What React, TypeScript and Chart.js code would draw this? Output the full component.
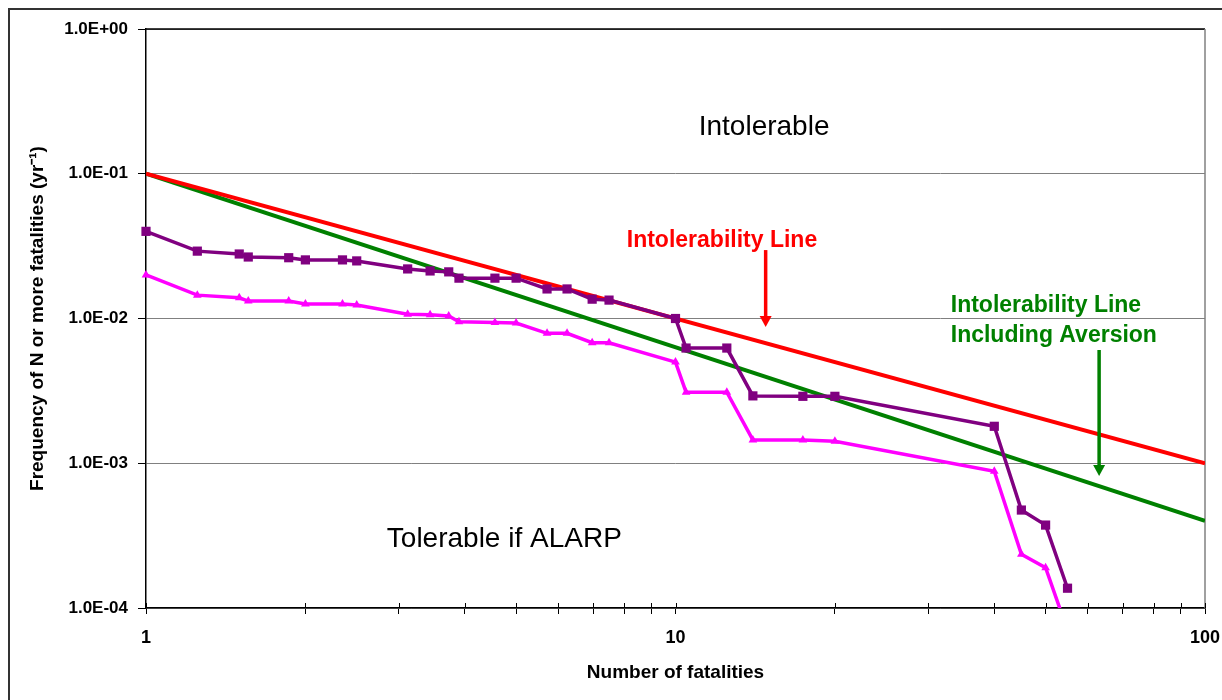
import React, { useEffect, useRef } from "react";
import { Chart, registerables } from "chart.js";
Chart.register(...registerables);

const FONT = "'Liberation Sans', Arial, Helvetica, sans-serif";

// Fatalities (N) for the two F-N curves
const nCurve = [1, 1.25, 1.5, 1.56, 1.86, 2, 2.35, 2.5, 3.12, 3.44, 3.73, 3.9, 4.56, 5, 5.72, 6.24, 6.96, 7.49, 10, 10.47, 12.5, 14, 17.4, 20, 40, 45, 50, 55];
// Purple curve (squares)
const fPurple = [0.04, 0.0292, 0.0279, 0.0266, 0.0263, 0.0254, 0.0254, 0.025, 0.022, 0.0213, 0.021, 0.019, 0.019, 0.019, 0.016, 0.016, 0.0136, 0.0134, 0.01, 0.00625, 0.00625, 0.00292, 0.0029, 0.0029, 0.0018, 0.000475, 0.000374, 0.000137];
// Magenta curve (triangles)
const fMagenta = [0.02, 0.0145, 0.0139, 0.0132, 0.0132, 0.0126, 0.0126, 0.0124, 0.0107, 0.0106, 0.0104, 0.0095, 0.0094, 0.0093, 0.0079, 0.0079, 0.0068, 0.0068, 0.005, 0.0031, 0.0031, 0.00145, 0.00145, 0.00142, 0.00088, 0.000235, 0.00019, 0.00007];

// Criterion lines
const nLine = [1, 100];
const fIntolerability = [0.1, 0.001];
const fAversion = [0.1, 0.0004];

// Axis ticks
const xMajor = [1, 10, 100];
const xMajorLabels = ["1", "10", "100"];
const xMinor = [2, 3, 4, 5, 6, 7, 8, 9, 20, 30, 40, 50, 60, 70, 80, 90];
const yTicks = [0.0001, 0.001, 0.01, 0.1, 1];
const yTickLabels = ["1.0E-04", "1.0E-03", "1.0E-02", "1.0E-01", "1.0E+00"];

// Annotations (anchored in data coordinates)
const notes = [
  { text: "Intolerable", n: 14.7, f: 0.185, color: "#000000", size: 28, weight: "normal", align: "center" },
  { text: "Tolerable if ALARP", n: 4.75, f: 0.000264, color: "#000000", size: 28, weight: "normal", align: "center" },
  { text: "Intolerability Line", n: 12.24, f: 0.0312, color: "#FF0000", size: 23, weight: "bold", align: "center" },
  { text: "Intolerability Line", n: 33.1, f: 0.0111, color: "#008000", size: 23, weight: "bold", align: "left" },
  { text: "Including Aversion", n: 33.1, f: 0.00688, color: "#008000", size: 23, weight: "bold", align: "left" },
];
const arrows = [
  { n: 14.8, from: 0.0297, to: 0.00874, color: "#FF0000" },
  { n: 63.1, from: 0.00606, to: 0.000816, color: "#008000" },
];

const pts = (xs: number[], ys: number[]) => xs.map((x, i) => ({ x, y: ys[i] }));

const decorPlugin = {
  id: "decor",
  beforeDatasetsDraw(chart: any) {
    const { ctx, chartArea: a, scales } = chart;
    const xs = scales.x;
    ctx.save();
    ctx.lineWidth = 1.5;
    ctx.strokeStyle = "#000";
    ctx.beginPath();
    ctx.moveTo(a.left, a.top);
    ctx.lineTo(a.right, a.top);
    ctx.stroke();
    ctx.strokeStyle = "#808080";
    ctx.beginPath();
    ctx.moveTo(a.right, a.top);
    ctx.lineTo(a.right, a.bottom);
    ctx.stroke();
    ctx.strokeStyle = "#000";
    ctx.lineWidth = 1;
    [...xMajor, ...xMinor].forEach((v) => {
      const px = Math.round(xs.getPixelForValue(v)) + 0.5;
      ctx.beginPath();
      ctx.moveTo(px, a.bottom - 5);
      ctx.lineTo(px, a.bottom);
      ctx.stroke();
    });
    ctx.restore();
  },
  afterDatasetsDraw(chart: any) {
    const { ctx, scales } = chart;
    const xs = scales.x;
    const ys = scales.y;
    ctx.save();
    notes.forEach((t) => {
      ctx.font = `${t.weight} ${t.size}px ${FONT}`;
      ctx.fillStyle = t.color;
      ctx.textAlign = t.align as CanvasTextAlign;
      ctx.textBaseline = "alphabetic";
      ctx.fillText(t.text, xs.getPixelForValue(t.n), ys.getPixelForValue(t.f));
    });
    arrows.forEach((ar) => {
      const x = xs.getPixelForValue(ar.n);
      const y0 = ys.getPixelForValue(ar.from);
      const y1 = ys.getPixelForValue(ar.to);
      const headL = 11;
      const headW = 6;
      ctx.strokeStyle = ar.color;
      ctx.fillStyle = ar.color;
      ctx.lineWidth = 3.5;
      ctx.beginPath();
      ctx.moveTo(x, y0);
      ctx.lineTo(x, y1 - headL + 1);
      ctx.stroke();
      ctx.beginPath();
      ctx.moveTo(x - headW, y1 - headL);
      ctx.lineTo(x + headW, y1 - headL);
      ctx.lineTo(x, y1);
      ctx.closePath();
      ctx.fill();
    });
    ctx.restore();
  },
};

export default function App() {
  const ref = useRef<HTMLCanvasElement | null>(null);
  useEffect(() => {
    if (!ref.current) return;
    const chart = new Chart(ref.current, {
      type: "line",
      data: {
        datasets: [
          {
            label: "Purple",
            data: pts(nCurve, fPurple),
            borderColor: "#800080",
            backgroundColor: "#800080",
            borderWidth: 3.5,
            pointStyle: "rect",
            pointRadius: 6.5,
            pointBorderWidth: 0,
            pointBackgroundColor: "#800080",
            tension: 0,
            clip: { left: 10, right: 10, top: 10, bottom: 0 },
          } as any,
          {
            label: "Magenta",
            data: pts(nCurve, fMagenta),
            borderColor: "#FF00FF",
            backgroundColor: "#FF00FF",
            borderWidth: 3.5,
            pointStyle: "triangle",
            pointRadius: 5,
            pointBorderWidth: 0,
            pointBackgroundColor: "#FF00FF",
            tension: 0,
            clip: { left: 10, right: 10, top: 10, bottom: 0 },
          } as any,
          {
            label: "Intolerability Line",
            data: pts(nLine, fIntolerability),
            borderColor: "#FF0000",
            borderWidth: 4,
            pointRadius: 0,
            tension: 0,
          },
          {
            label: "Intolerability Line Including Aversion",
            data: pts(nLine, fAversion),
            borderColor: "#008000",
            borderWidth: 4,
            pointRadius: 0,
            tension: 0,
          },
        ],
      },
      options: {
        animation: false,
        responsive: false,
        devicePixelRatio: 1,
        layout: { padding: { top: 29, right: 17, left: 0, bottom: 0 } },
        plugins: { legend: { display: false }, tooltip: { enabled: false } },
        scales: {
          x: {
            type: "logarithmic",
            min: 1,
            max: 100,
            position: "bottom",
            afterBuildTicks: (s: any) => {
              s.ticks = [...xMajor, ...xMinor].sort((a, b) => a - b).map((v) => ({ value: v }));
            },
            afterFit: (s: any) => {
              s.height = 92;
              s.paddingLeft = 0;
              s.paddingRight = 0;
            },
            grid: { drawOnChartArea: false, drawTicks: true, tickLength: 6, color: "#000", lineWidth: 1 },
            border: { display: true, color: "#000", width: 1.5 },
            ticks: {
              autoSkip: false,
              maxRotation: 0,
              padding: 13,
              color: "#000",
              font: { family: FONT, size: 18, weight: "bold" },
              callback: (v: any) => {
                const k = xMajor.indexOf(Number(v));
                return k >= 0 ? xMajorLabels[k] : "";
              },
            },
            title: {
              display: true,
              text: "Number of fatalities",
              color: "#000",
              font: { family: FONT, size: 19, weight: "bold" },
              padding: { top: 0, bottom: 16 },
            },
          },
          y: {
            type: "logarithmic",
            min: 0.0001,
            max: 1,
            afterBuildTicks: (s: any) => {
              s.ticks = yTicks.map((v) => ({ value: v }));
            },
            afterFit: (s: any) => {
              s.width = 146;
              s.paddingTop = 0;
              s.paddingBottom = 0;
            },
            grid: { color: "#808080", tickColor: "#000", tickLength: 8, lineWidth: 1 },
            border: { display: true, color: "#000", width: 1.5 },
            ticks: {
              autoSkip: false,
              padding: 10,
              color: "#000",
              font: { family: FONT, size: 17, weight: "bold" },
              callback: (v: any) => {
                const k = yTicks.indexOf(Number(v));
                return k >= 0 ? yTickLabels[k] : "";
              },
            },
            title: {
              display: true,
              text: "Frequency of N or more fatalities (yr⁻¹)",
              color: "#000",
              font: { family: FONT, size: 19, weight: "bold" },
              padding: { top: 26, bottom: 0 },
            },
          },
        },
      } as any,
      plugins: [decorPlugin],
    });
    return () => chart.destroy();
  }, []);

  return (
    <div style={{ position: "fixed", left: 0, top: 0, width: 1222, height: 700, background: "#fff", overflow: "hidden" }}>
      <div
        style={{
          position: "absolute",
          left: 8,
          top: 8,
          width: 1230,
          height: 710,
          borderTop: "2px solid #333",
          borderLeft: "2px solid #333",
        }}
      />
      <canvas ref={ref} width={1222} height={700} style={{ position: "absolute", left: 0, top: 0, width: 1222, height: 700 }} />
    </div>
  );
}
